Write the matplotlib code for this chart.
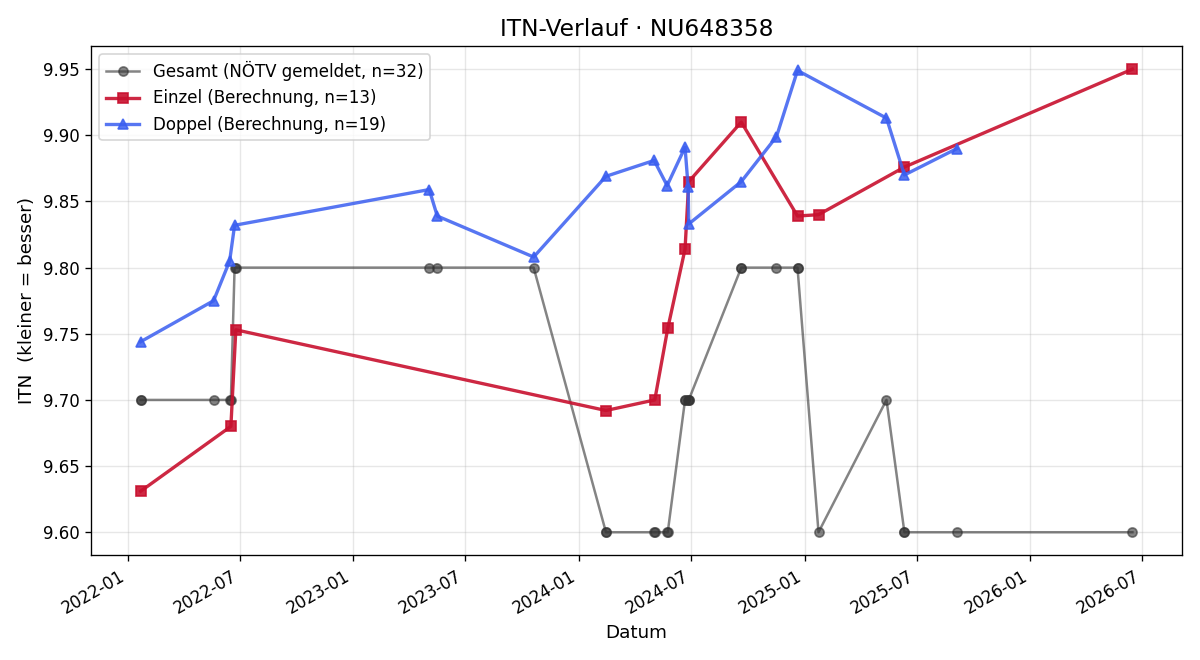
import pandas as pd
import matplotlib.pyplot as plt
import matplotlib.dates as mdates

# Einzel (single) values, computed
einzel_dates = ['2022-01-22', '2022-06-17', '2022-06-25', '2024-02-14', '2024-05-03',
                '2024-05-24', '2024-06-21', '2024-06-27', '2024-09-20', '2024-12-20',
                '2025-01-23', '2025-06-11', '2026-06-15']
einzel_itn = [9.631, 9.680, 9.753, 9.692, 9.700, 9.754, 9.814, 9.865, 9.910, 9.839,
              9.840, 9.876, 9.950]

# Doppel (double) values, computed
doppel_dates = ['2022-01-22', '2022-05-20', '2022-06-15', '2022-06-23', '2023-05-04',
                '2023-05-17', '2023-10-20', '2024-02-14', '2024-05-02', '2024-05-23',
                '2024-06-21', '2024-06-26', '2024-06-27', '2024-09-20', '2024-11-16',
                '2024-12-20', '2025-05-13', '2025-06-11', '2025-09-04']
doppel_itn = [9.744, 9.775, 9.805, 9.832, 9.859, 9.839, 9.808, 9.869, 9.881, 9.862,
              9.891, 9.861, 9.833, 9.865, 9.899, 9.949, 9.913, 9.870, 9.890]

# Gesamt (reported by NOETV) at each match date
gesamt_dates = ['2022-01-22', '2022-01-22', '2022-05-20', '2022-06-15', '2022-06-17',
                '2022-06-23', '2022-06-25', '2023-05-04', '2023-05-17', '2023-10-20',
                '2024-02-14', '2024-02-14', '2024-05-02', '2024-05-03', '2024-05-23',
                '2024-05-24', '2024-06-21', '2024-06-21', '2024-06-26', '2024-06-27',
                '2024-06-27', '2024-09-20', '2024-09-20', '2024-11-16', '2024-12-20',
                '2024-12-20', '2025-01-23', '2025-05-13', '2025-06-11', '2025-06-11',
                '2025-09-04', '2026-06-15']
gesamt_itn = [9.7, 9.7, 9.7, 9.7, 9.7, 9.8, 9.8, 9.8, 9.8, 9.8,
              9.6, 9.6, 9.6, 9.6, 9.6, 9.6, 9.7, 9.7, 9.7, 9.7,
              9.7, 9.8, 9.8, 9.8, 9.8, 9.8, 9.6, 9.7, 9.6, 9.6,
              9.6, 9.6]

g = pd.DataFrame({'dt': pd.to_datetime(gesamt_dates), 'itn': gesamt_itn})
e = pd.DataFrame({'dt': pd.to_datetime(einzel_dates), 'itn': einzel_itn})
d = pd.DataFrame({'dt': pd.to_datetime(doppel_dates), 'itn': doppel_itn})

fig, ax = plt.subplots(figsize=(10, 5.5), dpi=120)
ax.plot(g['dt'], g['itn'], marker='o', markersize=5.5, linewidth=1.5, color='#333333',
        alpha=0.6, label=f'Gesamt (NÖTV gemeldet, n={len(g)})')
ax.plot(e['dt'], e['itn'], marker='s', markersize=6.5, linewidth=2, color='#c8102e',
        alpha=0.9, label=f'Einzel (Berechnung, n={len(e)})')
ax.plot(d['dt'], d['itn'], marker='^', markersize=6.5, linewidth=2, color='#3a5ef0',
        alpha=0.85, label=f'Doppel (Berechnung, n={len(d)})')

ax.set_title('ITN-Verlauf · NU648358', fontsize=14)
ax.set_xlabel('Datum', fontsize=11)
ax.set_ylabel('ITN  (kleiner = besser)', fontsize=11)
ax.xaxis.set_major_locator(mdates.MonthLocator(bymonth=[1, 7]))
ax.xaxis.set_major_formatter(mdates.DateFormatter('%Y-%m'))
ax.grid(True, alpha=0.3)
ax.legend(loc='upper left')
fig.autofmt_xdate()
fig.tight_layout()
fig.savefig('out.png')
